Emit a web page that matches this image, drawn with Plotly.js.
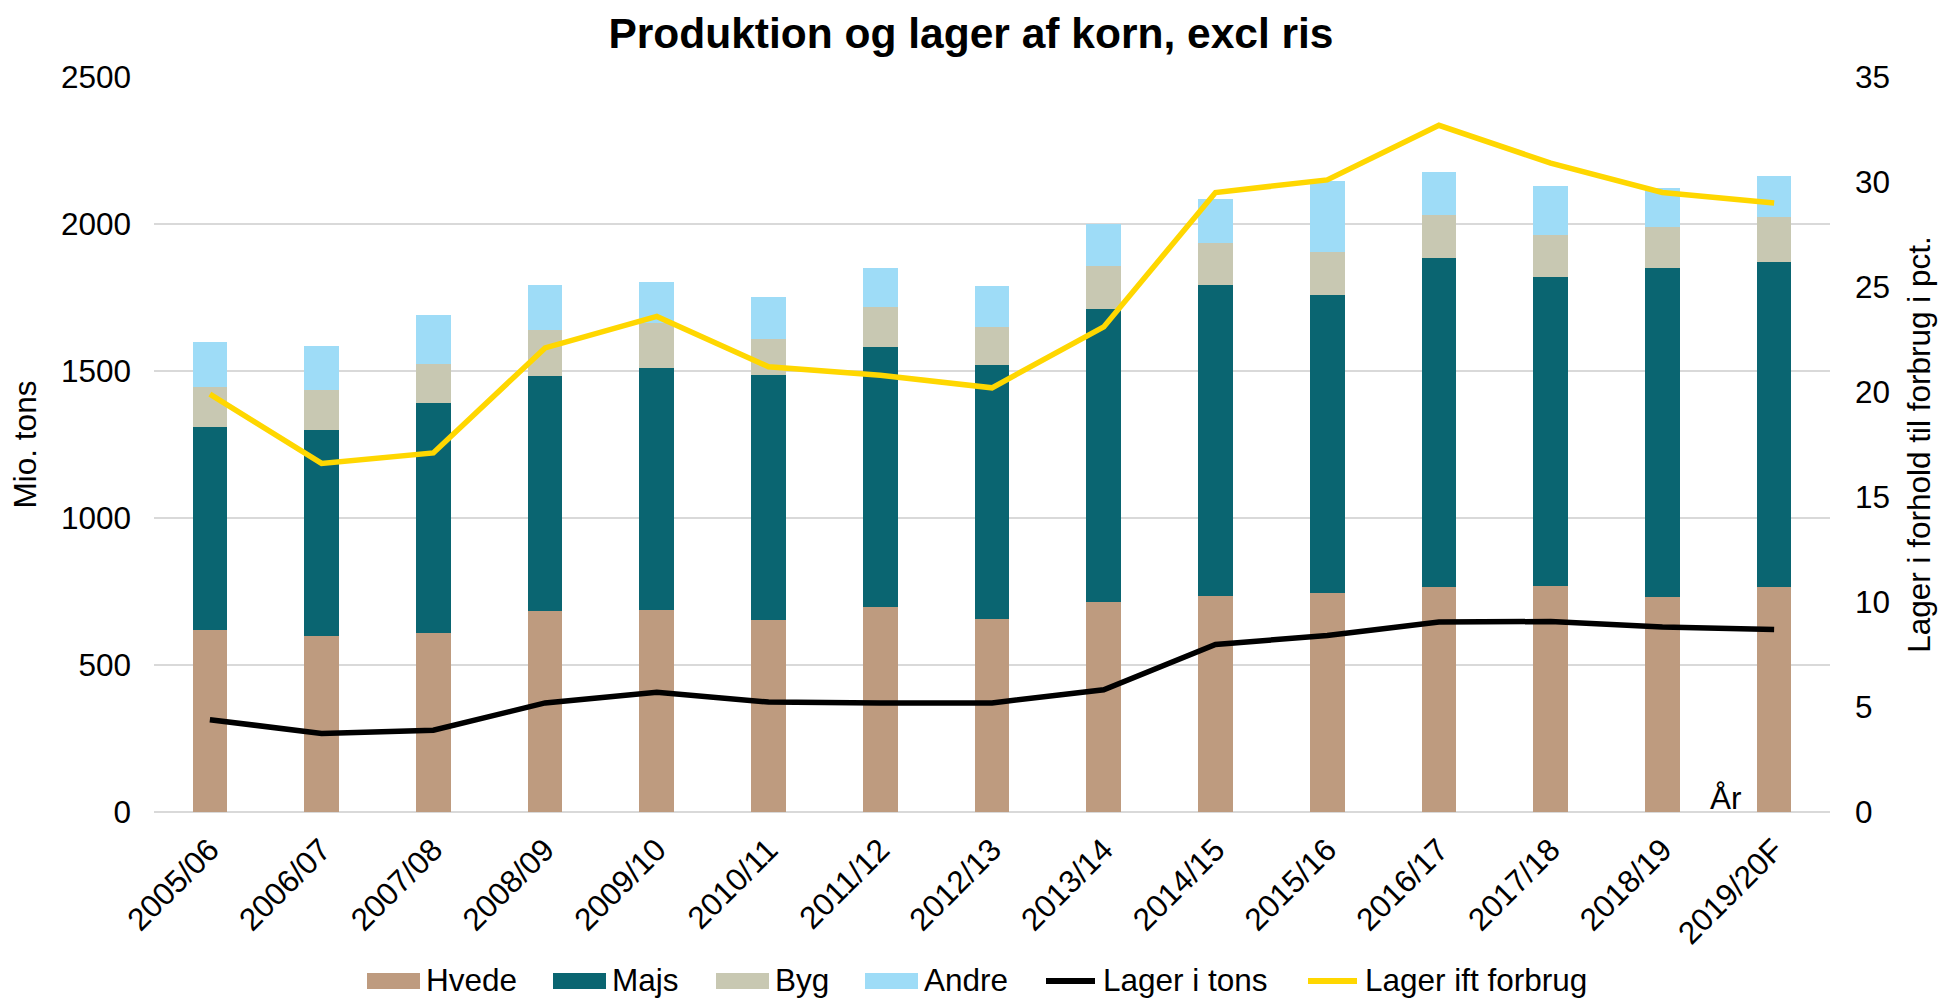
<!DOCTYPE html>
<html>
<head>
<meta charset="utf-8">
<script src="https://cdn.plot.ly/plotly-3.0.1.min.js"></script>
<style>
  html, body { margin: 0; padding: 0; background: #ffffff; }
  #chart { width: 1942px; height: 999px; }
</style>
</head>
<body>
<div id="chart"></div>
<script>
// ---- Data ----
const categories = ["2005/06","2006/07","2007/08","2008/09","2009/10","2010/11","2011/12","2012/13","2013/14","2014/15","2015/16","2016/17","2017/18","2018/19","2019/20F"];

// Mio. tons (stacked bars, left axis)
const hvede = [618, 597, 610, 683, 686, 652, 696, 656, 714, 736, 744, 764, 768, 730, 764];
const majs  = [691, 701, 782, 800, 825, 833, 886, 863, 996, 1058, 1013, 1120, 1052, 1120, 1106];
const byg   = [136, 139, 133, 155, 152, 124, 136, 131, 147, 143, 149, 148, 143, 140, 153];
const andre = [155, 148, 164, 156, 141, 142, 131, 140, 142, 147, 239, 144, 165, 134, 139];

// Lager i tons (left axis, Mio. tons)
const lagerTons = [314, 267, 278, 371, 407, 374, 371, 371, 416, 570, 600, 646, 648, 629, 621];

// Lager ift forbrug (right axis, pct.)
const lagerPct = [19.9, 16.6, 17.1, 22.1, 23.6, 21.2, 20.8, 20.2, 23.1, 29.5, 30.1, 32.7, 30.9, 29.5, 29.0];

const seriesNames = ["Hvede", "Majs", "Byg", "Andre", "Lager i tons", "Lager ift forbrug"];
const yTicks = [0, 500, 1000, 1500, 2000, 2500];
const y2Ticks = [0, 5, 10, 15, 20, 25, 30, 35];

// ---- Styles ----
const FONT = "Liberation Sans, Arial, Helvetica, sans-serif";
const FS = 31.5;
const seriesColors = ["#BE9B7F", "#0A6571", "#C8C8B2", "#9EDCF7", "#000000", "#FFD700"];
const seriesKinds  = ["bar", "bar", "bar", "bar", "line", "line"];

// Plot-area geometry (pixels) used for placing the legend
const W = 1942, H = 999;
const M = { l: 154, r: 112, t: 77, b: 187 };
const PW = W - M.l - M.r, PH = H - M.t - M.b;
const px2x = p => (p - M.l) / PW;
const px2y = p => (H - M.b - p) / PH;

// Legend layout (pixel positions of each entry's swatch start)
const legendSwatchX = [367, 553, 716, 865, 1044, 1306];
const legendSwatchW = 53;
const legendTextGap = 4;
const legendCenterY = 981;

function barTrace(i, vals) {
  return {
    type: "bar", name: seriesNames[i], x: categories, y: vals,
    marker: { color: seriesColors[i], line: { width: 0 } },
    yaxis: "y", showlegend: false
  };
}

const traces = [
  barTrace(0, hvede),
  barTrace(1, majs),
  barTrace(2, byg),
  barTrace(3, andre),
  {
    type: "scatter", mode: "lines", name: seriesNames[4],
    x: categories, y: lagerTons, yaxis: "y", showlegend: false,
    line: { color: seriesColors[4], width: 5.5 }
  },
  {
    type: "scatter", mode: "lines", name: seriesNames[5],
    x: categories, y: lagerPct, yaxis: "y2", showlegend: false,
    line: { color: seriesColors[5], width: 5.5 }
  }
];

// Custom legend (wide swatches like the reference)
const legendShapes = [];
const legendAnnotations = [];
seriesNames.forEach((name, i) => {
  const x0 = legendSwatchX[i], x1 = x0 + legendSwatchW;
  if (seriesKinds[i] === "bar") {
    legendShapes.push({
      type: "rect", xref: "paper", yref: "paper",
      x0: px2x(x0), x1: px2x(x1),
      y0: px2y(legendCenterY + 8), y1: px2y(legendCenterY - 8),
      fillcolor: seriesColors[i], line: { width: 0 }
    });
  } else {
    legendShapes.push({
      type: "line", xref: "paper", yref: "paper",
      x0: px2x(x0 + 2), x1: px2x(x1 - 2),
      y0: px2y(legendCenterY), y1: px2y(legendCenterY),
      line: { color: seriesColors[i], width: 6 }
    });
  }
  legendAnnotations.push({
    text: name, xref: "paper", yref: "paper",
    x: px2x(x1 + legendTextGap), y: px2y(legendCenterY - 1),
    xanchor: "left", yanchor: "middle", showarrow: false,
    font: { family: FONT, size: FS, color: "#000000" }
  });
});

const layout = {
  width: W, height: H,
  paper_bgcolor: "#ffffff", plot_bgcolor: "#ffffff",
  font: { family: FONT, size: FS, color: "#000000" },
  margin: { l: M.l, r: M.r, t: M.t, b: M.b, autoexpand: false },
  title: {
    text: "<b>Produktion og lager af korn, excl ris</b>",
    font: { family: FONT, size: 42.5, color: "#000000" },
    x: 0.5, xanchor: "center", xref: "container",
    y: 0.967, yanchor: "middle", yref: "container"
  },
  barmode: "stack",
  bargap: 0.69,
  showlegend: false,
  xaxis: {
    type: "category",
    tickangle: -45,
    tickfont: { family: FONT, size: FS, color: "#000000" },
    showgrid: false,
    showline: false,
    ticks: "",
    ticklabelstandoff: 12,
    automargin: false
  },
  yaxis: {
    range: [0, 2500],
    tickvals: yTicks,
    ticktext: yTicks.map(String),
    tickfont: { family: FONT, size: FS, color: "#000000" },
    showgrid: true, gridcolor: "#D9D9D9", gridwidth: 2,
    zeroline: true, zerolinecolor: "#D9D9D9", zerolinewidth: 2,
    showline: false, ticks: "",
    ticklabelstandoff: 22,
    automargin: false,
    title: { text: "Mio. tons", font: { family: FONT, size: FS, color: "#000000" }, standoff: 14 }
  },
  yaxis2: {
    range: [0, 35],
    tickvals: y2Ticks,
    ticktext: y2Ticks.map(String),
    overlaying: "y", side: "right",
    tickfont: { family: FONT, size: FS, color: "#000000" },
    showgrid: false, zeroline: false, showline: false, ticks: "",
    ticklabelstandoff: 24,
    automargin: false,
    title: { text: "Lager i forhold til forbrug i pct.", font: { family: FONT, size: FS, color: "#000000" }, standoff: 18 }
  },
  shapes: legendShapes,
  annotations: [
    {
      text: "År", xref: "paper", yref: "paper",
      x: 0.938, y: 0, xanchor: "center", yanchor: "bottom", yshift: -6,
      showarrow: false,
      font: { family: FONT, size: FS, color: "#000000" }
    }
  ].concat(legendAnnotations)
};

Plotly.newPlot("chart", traces, layout, { displayModeBar: false, staticPlot: true });
</script>
</body>
</html>
